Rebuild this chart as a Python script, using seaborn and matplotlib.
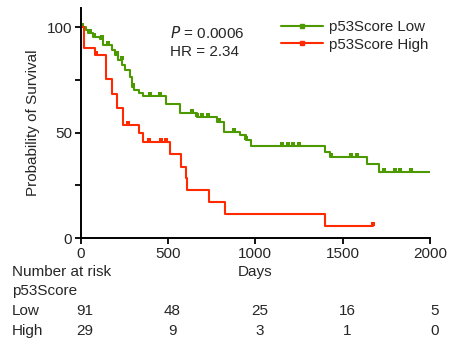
import numpy as np
import pandas as pd
import seaborn as sns
from matplotlib import pyplot as plt
from matplotlib.lines import Line2D
from matplotlib.ticker import MultipleLocator

# Kaplan-Meier steps (days, % surviving)
low_times = [0, 30, 43, 72, 110, 125, 178, 197, 216, 236, 255, 284, 293, 306, 331, 359,
             489, 568, 668, 783, 821, 913, 945, 974, 1400, 1430, 1642, 1709, 2000]
low_surv = [100, 98.4, 97, 95.4, 94.2, 91.5, 89.1, 86.7, 84.4, 82, 79.6, 76.2, 71.7, 70.2, 68.6, 67.3,
            63.6, 59.2, 57.5, 55.2, 50.4, 48.9, 46.5, 43.6, 41, 38.6, 35.2, 31.5, 31.5]
low_censor = [10, 53, 76, 120, 155, 206, 235, 298, 394, 456, 639, 668, 697, 729, 790, 878, 945,
              1155, 1188, 1218, 1250, 1432, 1547, 1581, 1738, 1801, 1830, 1891]

high_times = [0, 21, 84, 143, 177, 210, 240, 333, 359, 512, 576, 601, 606, 735, 824, 1400, 1672]
high_surv = [100, 89.9, 86.6, 75.5, 68.1, 61.5, 53.6, 49.7, 45.4, 39.7, 33.9, 28.4, 22.9, 17, 11.5, 5.7, 5.7]
high_censor = [88, 271, 391, 458, 487, 1672]

risk_days = [0, 500, 1000, 1500, 2000]
risk_low = [91, 48, 25, 16, 5]
risk_high = [29, 9, 3, 1, 0]

green = "#4c9900"
red = "#ff2a00"


def censor_frame(times, surv, cens):
    idx = np.searchsorted(times, cens, side="right") - 1
    return pd.DataFrame({"t": cens, "s": np.array(surv)[idx]})


sns.set_style("ticks")
plt.rcParams["font.family"] = ["Liberation Sans", "DejaVu Sans"]
plt.rcParams["font.size"] = 11

fig = plt.figure(figsize=(4.57, 3.41), dpi=100)
ax = fig.add_axes([80.7 / 457, 1 - 238.3 / 341, 349.3 / 457, 230.3 / 341])

low = pd.DataFrame({"t": low_times, "s": low_surv})
high = pd.DataFrame({"t": high_times, "s": high_surv})
sns.lineplot(data=low, x="t", y="s", ax=ax, color=green, lw=1.5, drawstyle="steps-post", estimator=None)
sns.lineplot(data=high, x="t", y="s", ax=ax, color=red, lw=1.5, drawstyle="steps-post", estimator=None)

lc = censor_frame(low_times, low_surv, low_censor)
hc = censor_frame(high_times, high_surv, high_censor)
sns.scatterplot(data=lc, x="t", y=lc["s"] + 0.9, ax=ax, marker="s", s=12, color=green, linewidth=0)
sns.scatterplot(data=hc, x="t", y=hc["s"] + 0.9, ax=ax, marker="s", s=12, color=red, linewidth=0)

ax.set_xlim(0, 2000)
ax.set_ylim(0, 109)
ax.set_xticks(risk_days)
ax.set_yticks([0, 50, 100])
ax.yaxis.set_minor_locator(MultipleLocator(25))
ax.tick_params(axis="both", which="both", direction="out", length=4, width=1.3, color="black",
               labelsize=11, pad=2)
for sp in ["left", "bottom"]:
    ax.spines[sp].set_linewidth(1.4)
    ax.spines[sp].set_color("black")
sns.despine(ax=ax)
ax.set_xlabel("Days", fontsize=11, labelpad=3)
ax.set_ylabel("Probability of Survival", fontsize=11, labelpad=5)

ax.text(510, 97, "$\\it{P}$ = 0.0006", fontsize=11, va="center", ha="left")
ax.text(510, 88.4, "HR = 2.34", fontsize=11, va="center", ha="left")

handles = [Line2D([], [], color=green, lw=1.5, marker="s", markersize=3.5),
           Line2D([], [], color=red, lw=1.5, marker="s", markersize=3.5)]
ax.legend(handles, ["p53Score Low", "p53Score High"], loc="upper left", bbox_to_anchor=(0.557, 0.975),
          frameon=False, handlelength=2.8, handletextpad=0.4, fontsize=10.8, labelspacing=0.25,
          numpoints=1, borderaxespad=0)

# number at risk table
def fy(py):
    return 1 - py / 341

fig.text(12 / 457, fy(272), "Number at risk", va="center", ha="left", fontsize=11)
fig.text(12 / 457, fy(291), "p53Score", va="center", ha="left", fontsize=11)
fig.text(12 / 457, fy(311), "Low", va="center", ha="left", fontsize=11)
fig.text(12 / 457, fy(331), "High", va="center", ha="left", fontsize=11)
for d, nl, nh in zip(risk_days, risk_low, risk_high):
    px = 80.7 + (d + 25) / 2000 * 349.3
    fig.text(px / 457, fy(311), str(nl), va="center", ha="center", fontsize=11)
    fig.text(px / 457, fy(331), str(nh), va="center", ha="center", fontsize=11)

fig.savefig("out.png", dpi=100)
